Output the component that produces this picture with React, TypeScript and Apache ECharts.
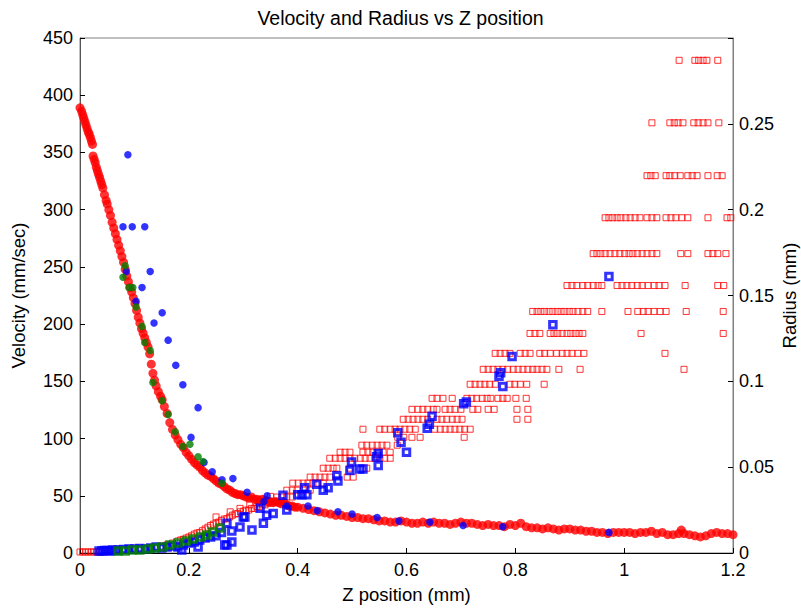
import React, { useEffect, useRef } from "react";
import * as echarts from "echarts";

// ---------- data ----------
const titleText = "Velocity and Radius vs Z position";
const xName = "Z position (mm)";
const yLeftName = "Velocity (mm/sec)";
const yRightName = "Radius (mm)";

// velocity (left axis) – red filled circles [z, v]
const redVelocity: [number, number][] = [
  [0.0, 389], [0.003, 386], [0.005, 383], [0.007, 380], [0.009, 377], [0.011, 374], [0.013, 371],
  [0.015, 368], [0.017, 366], [0.019, 363], [0.021, 360], [0.023, 357], [0.024, 347], [0.026, 344],
  [0.028, 341], [0.03, 337], [0.032, 334], [0.034, 331], [0.036, 328], [0.038, 325], [0.04, 322],
  [0.042, 319], [0.045, 313], [0.048, 308], [0.05, 305], [0.053, 300], [0.056, 295], [0.059, 289],
  [0.062, 284], [0.065, 279], [0.068, 274], [0.071, 269], [0.074, 264], [0.077, 259], [0.08, 254],
  [0.083, 248], [0.086, 242], [0.089, 237], [0.092, 232], [0.095, 228], [0.098, 223], [0.101, 218],
  [0.104, 212], [0.107, 206], [0.11, 201], [0.113, 196], [0.116, 192], [0.119, 188], [0.122, 184],
  [0.125, 180], [0.128, 174], [0.131, 165], [0.134, 157], [0.137, 151], [0.14, 146], [0.144, 141],
  [0.148, 137], [0.151, 134], [0.155, 128], [0.16, 122], [0.165, 114], [0.17, 108], [0.175, 103],
  [0.18, 99], [0.185, 95], [0.19, 92], [0.195, 88], [0.2, 85], [0.205, 82], [0.21, 79], [0.215, 77],
  [0.22, 75], [0.225, 72], [0.23, 70], [0.235, 68], [0.24, 67], [0.245, 65], [0.25, 63], [0.255, 61],
  [0.26, 60], [0.265, 58], [0.27, 56], [0.275, 55], [0.28, 53], [0.285, 52], [0.29, 51], [0.295, 51],
  [0.3, 50], [0.305, 49], [0.31, 48], [0.315, 49], [0.32, 47], [0.325, 47], [0.33, 46], [0.335, 47],
  [0.34, 46], [0.345, 45], [0.35, 45], [0.355, 44], [0.36, 45], [0.365, 44], [0.37, 43], [0.375, 44],
  [0.38, 42], [0.385, 41], [0.39, 41], [0.395, 40], [0.4, 40], [0.41, 39], [0.42, 38], [0.43, 37],
  [0.44, 36], [0.45, 35], [0.46, 34], [0.47, 33], [0.48, 33], [0.49, 32], [0.5, 31], [0.51, 31],
  [0.52, 30], [0.53, 30], [0.54, 29], [0.55, 28], [0.56, 28], [0.57, 27], [0.58, 27], [0.59, 28],
  [0.6, 27], [0.61, 26], [0.62, 26], [0.63, 27], [0.64, 26], [0.65, 27], [0.66, 26], [0.67, 26],
  [0.68, 25], [0.69, 26], [0.7, 27], [0.71, 26], [0.72, 26], [0.73, 25], [0.74, 24], [0.75, 25],
  [0.76, 24], [0.77, 24], [0.78, 23], [0.79, 25], [0.8, 24], [0.81, 26], [0.82, 23], [0.83, 22],
  [0.84, 22], [0.85, 21], [0.86, 22], [0.87, 21], [0.88, 20], [0.89, 21], [0.9, 21], [0.91, 20],
  [0.92, 20], [0.93, 19], [0.94, 19], [0.95, 18], [0.96, 18], [0.97, 17], [0.98, 18], [0.99, 18],
  [1.0, 18], [1.01, 18], [1.02, 17], [1.03, 18], [1.04, 18], [1.05, 19], [1.06, 17], [1.07, 18],
  [1.08, 16], [1.09, 16], [1.1, 17], [1.105, 20], [1.11, 17], [1.12, 16], [1.13, 15], [1.14, 14],
  [1.15, 15], [1.16, 17], [1.17, 18], [1.18, 17], [1.19, 17], [1.2, 16],
];

// velocity – blue filled circles
const blueVelocity: [number, number][] = [
  [0.088, 348], [0.079, 285], [0.096, 285], [0.119, 285], [0.085, 246], [0.129, 246], [0.114, 232],
  [0.103, 220], [0.151, 210], [0.136, 201], [0.162, 186], [0.176, 164], [0.189, 147], [0.217, 127],
  [0.204, 101], [0.228, 79], [0.243, 71], [0.261, 64], [0.281, 65], [0.307, 53], [0.344, 50],
  [0.338, 45], [0.38, 41], [0.419, 41], [0.436, 37], [0.474, 36], [0.5, 34], [0.546, 31], [0.586, 28],
  [0.643, 27], [0.704, 24], [0.777, 23], [0.972, 18],
];

// velocity – green filled circles
const greenVelocity: [number, number][] = [
  [0.083, 251], [0.079, 241], [0.09, 232], [0.097, 232], [0.103, 215], [0.114, 198], [0.119, 184],
  [0.129, 177], [0.134, 149], [0.151, 133], [0.162, 121], [0.175, 106], [0.189, 93], [0.202, 95],
  [0.217, 84], [0.226, 80], [0.261, 61],
];

// radius (right axis) – red open squares, low band [z, r]
const redRadiusLow: [number, number][] = [
  [0, 0.0006], [0.005, 0.0006], [0.01, 0.0006], [0.015, 0.0006], [0.02, 0.0006], [0.025, 0.0006],
  [0.03, 0.0006], [0.035, 0.0006], [0.04, 0.0006], [0.055, 0.0012], [0.07, 0.0012], [0.09, 0.0017],
  [0.11, 0.0023], [0.13, 0.003], [0.15, 0.004], [0.16, 0.0047], [0.17, 0.0058], [0.18, 0.007],
  [0.185, 0.0076], [0.19, 0.008], [0.195, 0.0087], [0.2, 0.0093], [0.205, 0.01], [0.21, 0.011],
  [0.215, 0.0116], [0.22, 0.012], [0.225, 0.013], [0.23, 0.014], [0.235, 0.015], [0.24, 0.016],
  [0.245, 0.0168], [0.25, 0.0174], [0.255, 0.018], [0.26, 0.019], [0.265, 0.0198], [0.27, 0.02],
  [0.275, 0.021], [0.28, 0.022], [0.285, 0.0227], [0.29, 0.023], [0.295, 0.024], [0.3, 0.0244],
  [0.305, 0.025], [0.31, 0.025], [0.315, 0.026], [0.32, 0.026], [0.325, 0.027], [0.33, 0.027],
  [0.335, 0.028], [0.34, 0.028], [0.345, 0.029], [0.35, 0.029], [0.355, 0.03], [0.36, 0.03],
  [0.25, 0.021], [0.276, 0.024], [0.294, 0.026], [0.312, 0.028], [0.33, 0.029], [0.35, 0.033],
];

// radius – red open squares, quantised levels: [radius, z positions]
const redRadiusRows: [number, number[]][] = [
  [0.287, [1.101, 1.13, 1.137, 1.145, 1.152, 1.172]],
  [0.2506, [1.051, 1.084, 1.092, 1.099, 1.108, 1.128, 1.136, 1.145, 1.154, 1.174]],
  [0.2198, [1.042, 1.049, 1.057, 1.077, 1.084, 1.093, 1.103, 1.117, 1.125, 1.134, 1.154, 1.171, 1.18]],
  [0.1953, [0.965, 0.972, 0.979, 0.987, 0.994, 1.003, 1.011, 1.02, 1.029, 1.042, 1.051, 1.06, 1.077, 1.086, 1.095, 1.106, 1.117, 1.154, 1.189, 1.196]],
  [0.1744, [0.943, 0.95, 0.957, 0.965, 0.974, 0.983, 0.992, 1.001, 1.009, 1.016, 1.024, 1.033, 1.042, 1.051, 1.06, 1.104, 1.117, 1.154, 1.163, 1.172, 1.187]],
  [0.1558, [0.895, 0.904, 0.913, 0.924, 0.933, 0.943, 0.952, 0.959, 0.987, 0.996, 1.005, 1.014, 1.024, 1.033, 1.044, 1.055, 1.064, 1.075, 1.112, 1.172, 1.183]],
  [0.1407, [0.832, 0.84, 0.847, 0.854, 0.862, 0.869, 0.877, 0.884, 0.891, 0.899, 0.906, 0.915, 0.924, 0.933, 0.959, 1.007, 1.025, 1.035, 1.044, 1.055, 1.066, 1.077, 1.114, 1.182]],
  [0.1279, [0.827, 0.836, 0.845, 0.864, 0.871, 0.878, 0.886, 0.895, 0.902, 0.91, 0.917, 0.924, 1.031, 1.182]],
  [0.1163, [0.763, 0.772, 0.781, 0.79, 0.809, 0.818, 0.827, 0.845, 0.854, 0.864, 0.876, 0.886, 0.895, 0.904, 0.915, 0.926, 1.075]],
  [0.107, [0.741, 0.75, 0.759, 0.768, 0.777, 0.786, 0.796, 0.805, 0.814, 0.823, 0.832, 0.84, 0.849, 0.858, 0.88, 0.919, 1.11]],
  [0.0983, [0.717, 0.726, 0.735, 0.744, 0.753, 0.763, 0.79, 0.799, 0.809, 0.821, 0.853]],
  [0.0901, [0.647, 0.656, 0.667, 0.684, 0.711, 0.72, 0.729, 0.739, 0.748, 0.755, 0.768, 0.777, 0.785, 0.801, 0.82]],
  [0.0837, [0.61, 0.621, 0.63, 0.639, 0.649, 0.656, 0.671, 0.68, 0.689, 0.7, 0.722, 0.731, 0.75, 0.761, 0.803, 0.823]],
  [0.0779, [0.594, 0.603, 0.612, 0.621, 0.63, 0.639, 0.656, 0.665, 0.674, 0.684, 0.693, 0.702, 0.803, 0.823]],
  [0.0721, [0.52, 0.551, 0.56, 0.57, 0.579, 0.588, 0.597, 0.606, 0.616, 0.652, 0.662, 0.671, 0.68, 0.689, 0.698, 0.707, 0.717]],
  [0.0674, [0.584, 0.595, 0.61, 0.625, 0.706]],
  [0.0628, [0.518, 0.527, 0.537, 0.546, 0.555, 0.564, 0.583]],
  [0.0587, [0.478, 0.487, 0.496, 0.52, 0.529, 0.538, 0.548, 0.557, 0.57]],
  [0.0552, [0.459, 0.469, 0.478, 0.487, 0.496, 0.505, 0.515, 0.524, 0.533, 0.542, 0.551, 0.56, 0.57]],
  [0.0494, [0.447, 0.456, 0.465, 0.472, 0.496, 0.527]],
  [0.0442, [0.423, 0.432, 0.441, 0.45, 0.459, 0.491, 0.502]],
  [0.0407, [0.391, 0.401, 0.41, 0.419, 0.428, 0.437, 0.447]],
  [0.0366, [0.38, 0.39, 0.399, 0.41, 0.423]],
  [0.0326, [0.362, 0.371, 0.38, 0.39]],
];

// radius – blue squares
const blueRadius: [number, number][] = [
  [0.035, 0.0012], [0.04, 0.0012], [0.045, 0.0015], [0.05, 0.0015], [0.055, 0.0012], [0.06, 0.0017],
  [0.065, 0.0015], [0.07, 0.0017], [0.08, 0.002], [0.09, 0.0023], [0.1, 0.0023], [0.11, 0.0026],
  [0.12, 0.0023], [0.13, 0.0029], [0.14, 0.0035], [0.15, 0.0029], [0.16, 0.0035], [0.17, 0.0041],
  [0.18, 0.0035], [0.187, 0.0017], [0.19, 0.0047], [0.2, 0.0058], [0.21, 0.0064], [0.217, 0.0035],
  [0.22, 0.0076], [0.23, 0.0087], [0.24, 0.0093], [0.25, 0.01], [0.26, 0.012], [0.266, 0.0047],
  [0.27, 0.0047], [0.279, 0.0064], [0.27, 0.0174], [0.279, 0.0128], [0.294, 0.0151], [0.3, 0.021],
  [0.303, 0.021], [0.316, 0.0134], [0.331, 0.026], [0.337, 0.0174], [0.343, 0.022], [0.355, 0.023],
  [0.373, 0.0337], [0.38, 0.025], [0.4, 0.034], [0.408, 0.034], [0.417, 0.034], [0.413, 0.038],
  [0.435, 0.04], [0.447, 0.0366], [0.456, 0.038], [0.472, 0.045], [0.474, 0.042], [0.496, 0.048],
  [0.499, 0.053], [0.514, 0.049], [0.52, 0.049], [0.545, 0.056], [0.548, 0.058], [0.548, 0.051],
  [0.584, 0.07], [0.59, 0.0645], [0.6, 0.0587], [0.638, 0.0727], [0.642, 0.075], [0.647, 0.0797],
  [0.705, 0.087], [0.71, 0.088], [0.77, 0.103], [0.773, 0.105], [0.777, 0.097], [0.794, 0.1145],
  [0.869, 0.133], [0.972, 0.161],
];

// radius – green squares
const greenRadius: [number, number][] = [
  [0.07, 0.0012], [0.083, 0.0012], [0.096, 0.0017], [0.11, 0.0017], [0.125, 0.0023], [0.138, 0.0029],
  [0.151, 0.0035], [0.165, 0.0047], [0.18, 0.0058], [0.195, 0.007], [0.208, 0.0081], [0.221, 0.0093],
  [0.233, 0.0105], [0.244, 0.0122], [0.257, 0.0145],
];

const FONT = "'Liberation Sans', Arial, Helvetica, sans-serif";

export default function App() {
  const ref = useRef<HTMLDivElement>(null);
  useEffect(() => {
    if (!ref.current) return;
    const chart = echarts.init(ref.current, undefined, { renderer: "svg" });
    const redRadius: [number, number][] = [
      ...redRadiusLow,
      ...redRadiusRows.flatMap(([r, zs]) => zs.map((z) => [z, r] as [number, number])),
    ];
    const openSquare = (color: string, size: number, bw: number) => ({
      symbol: "rect",
      symbolSize: size,
      itemStyle: { color: "rgba(255,255,255,0)", borderColor: color, borderWidth: bw },
    });
    chart.setOption({
      animation: false,
      backgroundColor: "#fff",
      title: {
        text: titleText,
        left: "center",
        top: 3,
        textStyle: { fontSize: 19.5, fontWeight: "normal", color: "#000", fontFamily: FONT },
      },
      grid: {
        left: 80,
        right: 68,
        top: 38,
        bottom: 57,
        outerBoundsMode: "none",
        containLabel: false,
        show: true,
        borderColor: "#808080",
        borderWidth: 1,
        backgroundColor: "transparent",
      },
      xAxis: {
        type: "value",
        min: 0,
        max: 1.2,
        interval: 0.2,
        name: xName,
        nameLocation: "middle",
        nameGap: 32,
        nameTextStyle: { fontSize: 18.5, color: "#000", fontFamily: FONT },
        axisLine: { show: true, onZero: false, lineStyle: { color: "#000", width: 1 } },
        axisTick: { show: true, inside: true, length: 5, lineStyle: { color: "#000" } },
        axisLabel: {
          margin: 8,
          fontSize: 18,
          color: "#000",
          fontFamily: FONT,
          formatter: (v: number) => String(Math.round(v * 10) / 10),
        },
        splitLine: { show: false },
      },
      yAxis: [
        {
          type: "value",
          position: "left",
          min: 0,
          max: 450,
          interval: 50,
          name: yLeftName,
          nameLocation: "middle",
          nameGap: 52,
          nameRotate: 90,
          nameTextStyle: { fontSize: 18.5, color: "#000", fontFamily: FONT },
          axisLine: { show: true, onZero: false, lineStyle: { color: "#555", width: 1 } },
          axisTick: { show: true, inside: true, length: 5, lineStyle: { color: "#000" } },
          axisLabel: { margin: 7, fontSize: 18, color: "#000", fontFamily: FONT },
          splitLine: { show: false },
        },
        {
          type: "value",
          position: "right",
          min: 0,
          max: 0.3,
          interval: 0.05,
          name: yRightName,
          nameLocation: "middle",
          nameGap: 47,
          nameMoveOverlap: false,
          nameRotate: 90,
          nameTextStyle: { fontSize: 18.5, color: "#000", fontFamily: FONT },
          axisLine: { show: true, onZero: false, lineStyle: { color: "#808080", width: 1 } },
          axisTick: { show: true, inside: true, length: 5, lineStyle: { color: "#000" } },
          axisLabel: {
            margin: 6,
            fontSize: 18,
            color: "#000",
            fontFamily: FONT,
            formatter: (v: number) => (v > 0.29 ? "" : String(Math.round(v * 100) / 100)),
          },
          splitLine: { show: false },
        },
      ],
      series: [
        { type: "scatter", yAxisIndex: 1, data: redRadius, ...openSquare("#ff0000", 6, 1) },
        {
          type: "scatter",
          yAxisIndex: 0,
          data: redVelocity,
          symbol: "circle",
          symbolSize: 9,
          itemStyle: { color: "#ff0000" },
        },
        { type: "scatter", yAxisIndex: 1, data: blueRadius, ...openSquare("#0000ff", 6.5, 3) },
        {
          type: "scatter",
          yAxisIndex: 0,
          data: blueVelocity,
          symbol: "circle",
          symbolSize: 7.5,
          itemStyle: { color: "#0000ff" },
        },
        { type: "scatter", yAxisIndex: 1, data: greenRadius, ...openSquare("#007f00", 6.5, 3) },
        {
          type: "scatter",
          yAxisIndex: 0,
          data: greenVelocity,
          symbol: "circle",
          symbolSize: 7.5,
          itemStyle: { color: "#007f00" },
        },
      ],
    });
    return () => chart.dispose();
  }, []);
  return (
    <div
      ref={ref}
      style={{ position: "absolute", left: 0, top: 0, width: 801, height: 610, background: "#fff" }}
    />
  );
}
